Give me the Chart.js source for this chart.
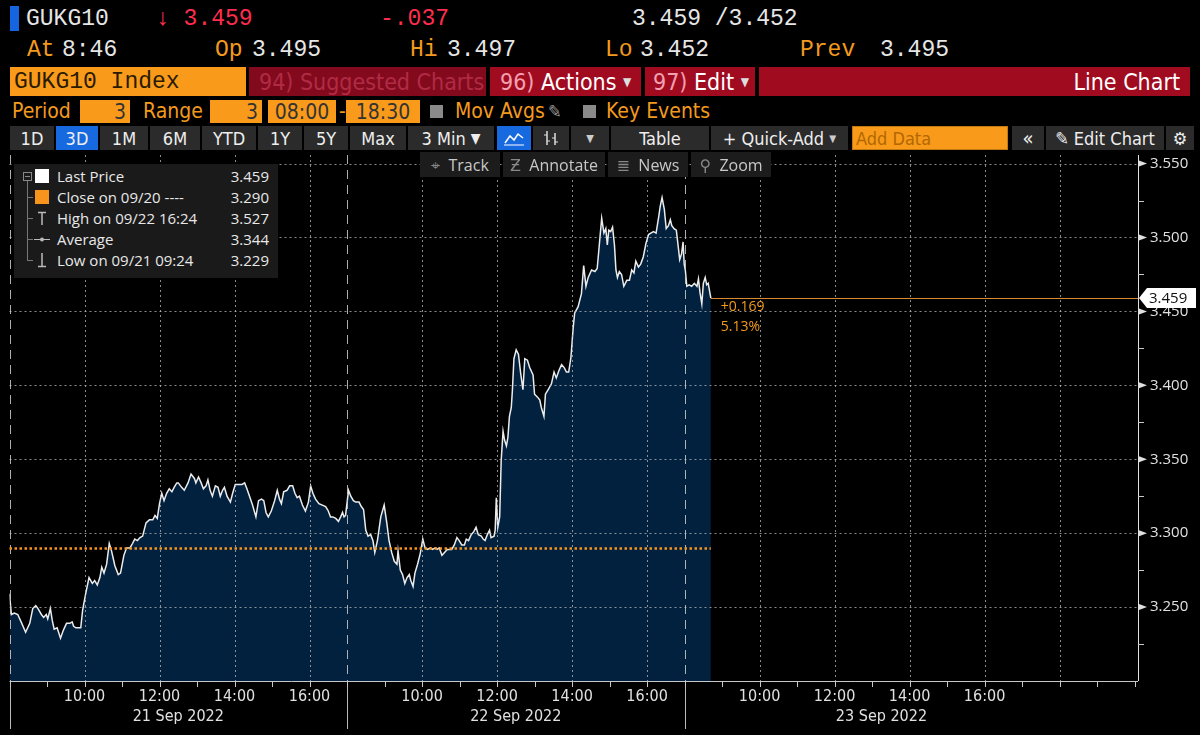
<!DOCTYPE html>
<html>
<head>
<meta charset="utf-8">
<script src="https://cdn.jsdelivr.net/npm/chart.js@4.4.0/dist/chart.umd.min.js"></script>
<style>
  html, body { margin: 0; padding: 0; background: #000; }
  #wrap { position: relative; width: 1200px; height: 735px; background: #000; overflow: hidden; }
  .t { position: absolute; white-space: nowrap; }
  .mono { font-family: 'Liberation Mono', 'DejaVu Sans Mono', monospace; font-size: 23px; line-height: 24px; }
  .nar { font-family: 'Liberation Sans Narrow', 'DejaVu Sans Condensed', 'Liberation Sans', sans-serif; }
  .or { color: #f39a1e; }
  .wh { color: #e6e6e6; }
  .red { color: #ff2d4d; }
  .box { position: absolute; display: flex; align-items: center; box-sizing: border-box; white-space: nowrap; }
  .btn { position: absolute; top: 126px; height: 24px; background: #2b2b2b; color: #eee; font-size: 18px;
         display: flex; align-items: center; justify-content: center; box-sizing: border-box; white-space: nowrap; }
  .ov { position: absolute; top: 152px; height: 25px; background: #1c1c1c; color: #c8c8c8; font-size: 16px;
        font-family: 'Open Sans', 'DejaVu Sans', sans-serif; display: flex; align-items: center; justify-content: center;
        white-space: nowrap; z-index: 3; }
  #legend { position: absolute; left: 14px; top: 164px; width: 264px; height: 114px; background: #1a1a1a; z-index: 3;
            font-family: 'Open Sans', 'DejaVu Sans', sans-serif; font-size: 15px; color: #e8e8e8; }
  #legend .row { position: absolute; left: 43px; width: 212px; height: 21px; line-height: 21px; }
  #legend .row span { position: absolute; right: 0; }
  canvas { position: absolute; left: 0; top: 150px; }
</style>
</head>
<body>
<div id="wrap">
  <!-- quote header -->
  <div class="t" style="left:10px;top:6px;width:9px;height:25px;background:#1565e0"></div>
  <div class="t mono wh" style="left:26px;top:7px">GUKG10</div>
  <div class="t mono red" style="left:156px;top:7px">↓ 3.459</div>
  <div class="t mono red" style="left:380px;top:7px">-.037</div>
  <div class="t mono wh" style="left:632px;top:7px">3.459 /3.452</div>

  <div class="t mono or" style="left:27px;top:38px">At</div>
  <div class="t mono wh" style="left:62px;top:38px">8:46</div>
  <div class="t mono or" style="left:215px;top:38px">Op</div>
  <div class="t mono wh" style="left:252px;top:38px">3.495</div>
  <div class="t mono or" style="left:410px;top:38px">Hi</div>
  <div class="t mono wh" style="left:447px;top:38px">3.497</div>
  <div class="t mono or" style="left:605px;top:38px">Lo</div>
  <div class="t mono wh" style="left:640px;top:38px">3.452</div>
  <div class="t mono or" style="left:800px;top:38px">Prev</div>
  <div class="t mono wh" style="left:880px;top:38px">3.495</div>

  <!-- function bar -->
  <div class="box mono" style="left:10px;top:67px;width:236px;height:29px;background:#f99a1b;color:#2a1a00;padding-left:4px">GUKG10 Index</div>
  <div class="box nar" style="left:249px;top:67px;width:237px;height:29px;background:#820a1c;color:#b12a45;font-size:23px;padding-left:10px">94) Suggested Charts</div>
  <div class="box nar" style="left:490px;top:67px;width:151px;height:29px;background:#a00b20;color:#fff;font-size:23px;padding-left:10px"><span style="color:#f4a0b0">96)</span>&nbsp;Actions&nbsp;<span style="font-size:12px;color:#ddd">▼</span></div>
  <div class="box nar" style="left:645px;top:67px;width:110px;height:29px;background:#a00b20;color:#fff;font-size:23px;padding-left:8px"><span style="color:#f4a0b0">97)</span>&nbsp;Edit&nbsp;<span style="font-size:12px;color:#ddd">▼</span></div>
  <div class="box nar" style="left:759px;top:67px;width:431px;height:29px;background:#a00b20;color:#fff;font-size:23px;justify-content:flex-end;padding-right:10px">Line Chart</div>

  <!-- period row -->
  <div class="t nar or" style="left:12px;top:100px;font-size:21px;line-height:23px">Period</div>
  <div class="box nar" style="left:80px;top:100px;width:50px;height:23px;background:#f99a1b;color:#333;font-size:21px;justify-content:flex-end;padding-right:4px">3</div>
  <div class="t nar or" style="left:143px;top:100px;font-size:21px;line-height:23px">Range</div>
  <div class="box nar" style="left:210px;top:100px;width:52px;height:23px;background:#f99a1b;color:#333;font-size:21px;justify-content:flex-end;padding-right:4px">3</div>
  <div class="box nar" style="left:268px;top:100px;width:68px;height:23px;background:#f99a1b;color:#333;font-size:21px;justify-content:center">08:00</div>
  <div class="t nar or" style="left:339px;top:100px;font-size:21px;line-height:23px">-</div>
  <div class="box nar" style="left:346px;top:100px;width:74px;height:23px;background:#f99a1b;color:#333;font-size:21px;justify-content:center">18:30</div>
  <div class="t" style="left:430px;top:105px;width:13px;height:13px;background:#8a8a8a"></div>
  <div class="t nar or" style="left:455px;top:100px;font-size:21px;line-height:23px">Mov Avgs</div>
  <div class="t nar" style="left:548px;top:100px;font-size:18px;line-height:23px;color:#999">✎</div>
  <div class="t" style="left:583px;top:105px;width:13px;height:13px;background:#8a8a8a"></div>
  <div class="t nar or" style="left:606px;top:100px;font-size:21px;line-height:23px">Key Events</div>

  <!-- toolbar -->
  <div class="btn nar" style="left:10px;width:44px">1D</div>
  <div class="btn nar" style="left:56px;width:42px;background:#1769e0">3D</div>
  <div class="btn nar" style="left:100px;width:48px">1M</div>
  <div class="btn nar" style="left:150px;width:50px">6M</div>
  <div class="btn nar" style="left:202px;width:54px">YTD</div>
  <div class="btn nar" style="left:258px;width:44px">1Y</div>
  <div class="btn nar" style="left:304px;width:44px">5Y</div>
  <div class="btn nar" style="left:350px;width:56px">Max</div>
  <div class="btn nar" style="left:408px;width:86px">3 Min&nbsp;<span style="font-size:14px">▼</span></div>
  <div class="btn" style="left:497px;width:34px;background:#1769e0">
    <svg width="22" height="16"><polyline points="2,13 7,6 11,10 15,4 20,8" fill="none" stroke="#fff" stroke-width="1.5"/><line x1="1" y1="15" x2="21" y2="15" stroke="#fff"/></svg>
  </div>
  <div class="btn" style="left:533px;width:36px">
    <svg width="20" height="18"><line x1="6" y1="2" x2="6" y2="16" stroke="#ddd" stroke-width="1.5"/><line x1="3" y1="6" x2="6" y2="6" stroke="#ddd"/><line x1="6" y1="12" x2="9" y2="12" stroke="#ddd"/><line x1="14" y1="4" x2="14" y2="16" stroke="#ddd" stroke-width="1.5"/><line x1="11" y1="9" x2="14" y2="9" stroke="#ddd"/><line x1="14" y1="13" x2="17" y2="13" stroke="#ddd"/></svg>
  </div>
  <div class="btn nar" style="left:571px;width:38px;font-size:11px;color:#ccc">▼</div>
  <div class="btn nar" style="left:611px;width:98px">Table</div>
  <div class="btn nar" style="left:711px;width:137px">+ Quick-Add&nbsp;<span style="font-size:10px;color:#ccc">▼</span></div>
  <div class="btn nar" style="left:852px;width:156px;background:#f99a1b;color:#b26800;justify-content:flex-start;padding-left:3px;border:1px solid #c07a10">Add Data</div>
  <div class="btn nar" style="left:1012px;width:32px;font-size:20px">«</div>
  <div class="btn nar" style="left:1046px;width:118px">✎ Edit Chart</div>
  <div class="btn nar" style="left:1166px;width:28px;font-size:18px">⚙</div>

  <!-- chart overlay buttons -->
  <div class="ov" style="left:420px;width:80px"><span style="color:#888">⌖</span>&nbsp;&nbsp;Track</div>
  <div class="ov" style="left:503px;width:102px"><span style="color:#888">Ƶ</span>&nbsp;&nbsp;Annotate</div>
  <div class="ov" style="left:608px;width:80px"><span style="color:#888">≣</span>&nbsp;&nbsp;News</div>
  <div class="ov" style="left:691px;width:80px"><span style="color:#888">⚲</span>&nbsp;&nbsp;Zoom</div>

  <!-- legend -->
  <div id="legend">
    <svg width="40" height="114" style="position:absolute;left:0;top:0">
      <rect x="9.5" y="8.5" width="8" height="8" fill="none" stroke="#888"/>
      <line x1="11" y1="12.5" x2="16" y2="12.5" stroke="#888"/>
      <line x1="13.5" y1="17" x2="13.5" y2="97" stroke="#777"/>
      <line x1="13.5" y1="33.5" x2="19" y2="33.5" stroke="#777"/>
      <line x1="13.5" y1="54.5" x2="19" y2="54.5" stroke="#777"/>
      <line x1="13.5" y1="75.5" x2="19" y2="75.5" stroke="#777"/>
      <line x1="13.5" y1="96.5" x2="19" y2="96.5" stroke="#777"/>
      <rect x="21" y="5" width="14" height="14" fill="#fff"/>
      <rect x="21" y="26" width="14" height="14" fill="#f7941d"/>
      <line x1="24" y1="48.5" x2="32" y2="48.5" stroke="#bbb" stroke-width="1.5"/>
      <line x1="28" y1="48" x2="28" y2="61" stroke="#bbb" stroke-width="1.5"/>
      <line x1="20" y1="75.5" x2="36" y2="75.5" stroke="#bbb"/>
      <circle cx="28" cy="75.5" r="2" fill="#bbb"/>
      <line x1="28" y1="89" x2="28" y2="102" stroke="#bbb" stroke-width="1.5"/>
      <line x1="24" y1="102.5" x2="32" y2="102.5" stroke="#bbb" stroke-width="1.5"/>
    </svg>
    <div class="row" style="top:2px">Last Price<span id="lgLast"></span></div>
    <div class="row" style="top:23px">Close on 09/20 ---- <span id="lgClose"></span></div>
    <div class="row" style="top:44px">High on 09/22 16:24<span id="lgHigh"></span></div>
    <div class="row" style="top:65px">Average<span id="lgAvg"></span></div>
    <div class="row" style="top:86px">Low on 09/21 09:24<span id="lgLow"></span></div>
  </div>

  <canvas id="chart" width="1200" height="585"></canvas>
</div>

<script>
// session hours on a compressed axis: 21 Sep 08:00 = 0, each day 08:00-17:00 = 9h
const hours = [
  0.00, 0.05, 0.13, 0.22, 0.31, 0.43, 0.54, 0.62, 0.70, 0.76, 0.85, 0.91, 0.98, 1.02, 1.09, 1.14, 1.19, 1.27, 1.36, 1.43,
  1.52, 1.61, 1.67, 1.71, 1.77, 1.85, 1.90, 1.95, 2.03, 2.12, 2.21, 2.27, 2.34, 2.41, 2.46, 2.52, 2.59, 2.66, 2.72, 2.81,
  2.90, 2.96, 3.05, 3.12, 3.21, 3.28, 3.34, 3.41, 3.48, 3.55, 3.64, 3.73, 3.82, 3.88, 3.94, 4.00, 4.06, 4.12, 4.19, 4.26,
  4.33, 4.39, 4.46, 4.50, 4.59, 4.66, 4.76, 4.84, 4.93, 4.97, 5.04, 5.11, 5.17, 5.24, 5.29, 5.35, 5.41, 5.49, 5.56, 5.62,
  5.68, 5.73, 5.80, 5.89, 5.95, 6.02, 6.11, 6.20, 6.27, 6.33, 6.40, 6.48, 6.57, 6.64, 6.72, 6.78, 6.84, 6.90, 6.98, 7.07,
  7.14, 7.20, 7.25, 7.31, 7.40, 7.47, 7.55, 7.61, 7.67, 7.73, 7.81, 7.89, 7.97, 8.03, 8.09, 8.16, 8.25, 8.34, 8.43, 8.50,
  8.56, 8.62, 8.70, 8.77, 8.83, 8.88, 8.92, 8.96,
  9.04, 9.10, 9.17, 9.23, 9.32, 9.38, 9.44, 9.50, 9.56, 9.63, 9.69, 9.74, 9.81, 9.90, 9.99, 10.06, 10.12, 10.19, 10.26, 10.33,
  10.36, 10.42, 10.48, 10.54, 10.60, 10.66, 10.70, 10.76, 10.81, 10.88, 10.95, 11.02, 11.08, 11.15, 11.22, 11.28, 11.35, 11.40, 11.46, 11.53,
  11.60, 11.67, 11.73, 11.79, 11.86, 11.93, 11.99, 12.06, 12.13, 12.18, 12.24, 12.31, 12.38, 12.44, 12.50, 12.58, 12.63, 12.68, 12.74, 12.80,
  12.84, 12.92, 12.95, 12.98, 13.02, 13.07, 13.11, 13.16, 13.20, 13.25, 13.29, 13.33, 13.38, 13.41, 13.45, 13.51, 13.57, 13.63, 13.69, 13.74,
  13.81, 13.87, 13.96, 14.00, 14.08, 14.14, 14.18, 14.25, 14.29, 14.36, 14.45, 14.52, 14.58, 14.65, 14.72, 14.79, 14.85, 14.91, 14.97, 15.03,
  15.07, 15.16, 15.25, 15.31, 15.37, 15.43, 15.52, 15.61, 15.67, 15.73, 15.79, 15.85, 15.90, 15.94, 15.98, 16.03, 16.08, 16.13, 16.17, 16.21,
  16.26, 16.32, 16.38, 16.46, 16.53, 16.59, 16.65, 16.70, 16.77, 16.83, 16.90, 16.97, 17.04, 17.10, 17.17, 17.24, 17.31, 17.35, 17.40, 17.46,
  17.51, 17.57, 17.62, 17.66, 17.72, 17.78, 17.83, 17.87, 17.92, 17.96, 17.99,
  18.02, 18.06, 18.12, 18.19, 18.26, 18.33, 18.37, 18.41, 18.46, 18.50, 18.55, 18.59, 18.63, 18.70
];
const yields = [
  3.259, 3.245, 3.246, 3.245, 3.240, 3.233, 3.239, 3.249, 3.251, 3.249, 3.245, 3.243, 3.245, 3.242, 3.249, 3.241, 3.235, 3.236, 3.229, 3.234,
  3.239, 3.239, 3.240, 3.237, 3.236, 3.236, 3.236, 3.248, 3.259, 3.270, 3.266, 3.268, 3.265, 3.270, 3.277, 3.273, 3.279, 3.293, 3.288, 3.278,
  3.272, 3.273, 3.285, 3.290, 3.290, 3.293, 3.296, 3.295, 3.297, 3.298, 3.307, 3.309, 3.309, 3.312, 3.310, 3.320, 3.327, 3.322, 3.327, 3.330,
  3.328, 3.331, 3.334, 3.334, 3.331, 3.329, 3.334, 3.340, 3.337, 3.334, 3.338, 3.334, 3.330, 3.332, 3.336, 3.329, 3.325, 3.332, 3.331, 3.325,
  3.329, 3.331, 3.325, 3.321, 3.327, 3.333, 3.333, 3.333, 3.334, 3.330, 3.325, 3.319, 3.311, 3.322, 3.323, 3.322, 3.314, 3.311, 3.315, 3.322,
  3.329, 3.323, 3.320, 3.328, 3.329, 3.332, 3.332, 3.327, 3.324, 3.325, 3.319, 3.315, 3.321, 3.332, 3.327, 3.323, 3.320, 3.319, 3.318, 3.315,
  3.311, 3.311, 3.310, 3.308, 3.311, 3.314, 3.311, 3.312,
  3.329, 3.325, 3.322, 3.321, 3.321, 3.318, 3.316, 3.302, 3.298, 3.299, 3.295, 3.287, 3.295, 3.311, 3.319, 3.307, 3.295, 3.287, 3.281, 3.279,
  3.288, 3.275, 3.272, 3.266, 3.270, 3.272, 3.268, 3.264, 3.273, 3.279, 3.286, 3.296, 3.290, 3.289, 3.290, 3.289, 3.290, 3.289, 3.290, 3.285,
  3.287, 3.289, 3.289, 3.289, 3.292, 3.297, 3.295, 3.292, 3.292, 3.296, 3.295, 3.299, 3.301, 3.304, 3.299, 3.298, 3.296, 3.295, 3.299, 3.302,
  3.297, 3.298, 3.302, 3.324, 3.304, 3.311, 3.349, 3.369, 3.363, 3.359, 3.365, 3.379, 3.385, 3.397, 3.418, 3.424, 3.421, 3.408, 3.397, 3.418,
  3.417, 3.412, 3.407, 3.394, 3.392, 3.390, 3.385, 3.379, 3.394, 3.397, 3.401, 3.409, 3.405, 3.410, 3.414, 3.412, 3.409, 3.409, 3.419, 3.439,
  3.449, 3.453, 3.462, 3.481, 3.467, 3.473, 3.478, 3.477, 3.479, 3.496, 3.513, 3.503, 3.506, 3.495, 3.505, 3.504, 3.507, 3.495, 3.478, 3.473,
  3.477, 3.475, 3.467, 3.471, 3.471, 3.478, 3.476, 3.484, 3.480, 3.482, 3.487, 3.496, 3.502, 3.503, 3.504, 3.503, 3.514, 3.521, 3.527, 3.519,
  3.506, 3.508, 3.512, 3.508, 3.506, 3.505, 3.494, 3.485, 3.489, 3.497, 3.482,
  3.478, 3.467, 3.468, 3.467, 3.469, 3.467, 3.472, 3.463, 3.455, 3.469, 3.473, 3.468, 3.469, 3.459
];

const yTickValues = [3.25, 3.30, 3.35, 3.40, 3.45, 3.50, 3.55];
const timeTickValues = [2, 4, 6, 8, 11, 13, 15, 17, 20, 22, 24, 26];
const timeTickLabels = ['10:00', '12:00', '14:00', '16:00', '10:00', '12:00', '14:00', '16:00', '10:00', '12:00', '14:00', '16:00'];
const gridHours = [2, 4, 6, 8, 11, 13, 15, 17, 20, 22, 24, 26, 28];
const dayStarts = [0, 9, 18];
const dayLabels = ['21 Sep 2022', '22 Sep 2022', '23 Sep 2022'];
const dayLabelCenters = [4.5, 13.5, 23.25];

const prevClose = 3.290;
const lastPrice = 3.459;
const highValue = 3.527;
const averageValue = 3.344;
const lowValue = 3.229;
const changeLabels = ['+0.169', '5.13%'];

document.getElementById('lgLast').textContent = lastPrice.toFixed(3);
document.getElementById('lgClose').textContent = prevClose.toFixed(3);
document.getElementById('lgHigh').textContent = highValue.toFixed(3);
document.getElementById('lgAvg').textContent = averageValue.toFixed(3);
document.getElementById('lgLow').textContent = lowValue.toFixed(3);

const NARROW = "'Liberation Sans Narrow', 'DejaVu Sans Condensed', 'Liberation Sans', sans-serif";

function seg(ctx, x1, y1, x2, y2) {
  ctx.beginPath();
  ctx.moveTo(x1, y1);
  ctx.lineTo(x2, y2);
  ctx.stroke();
}

// grid, reference lines, axis furniture
const terminalDecor = {
  id: 'terminalDecor',
  afterDatasetsDraw(chart) {
    const { ctx, chartArea: a, scales: { x, y } } = chart;
    ctx.save();
    ctx.lineWidth = 1;

    // dotted grid
    ctx.strokeStyle = 'rgba(185,185,185,0.75)';
    ctx.setLineDash([2, 3]);
    yTickValues.forEach(v => {
      const py = Math.round(y.getPixelForValue(v)) + 0.5;
      seg(ctx, a.left, py, a.right, py);
    });
    gridHours.forEach(h => {
      const px = Math.round(x.getPixelForValue(h)) + 0.5;
      seg(ctx, px, a.top, px, a.bottom);
    });

    // day separators
    ctx.strokeStyle = 'rgba(205,205,205,0.85)';
    ctx.setLineDash([9, 6]);
    dayStarts.forEach(h => {
      const px = Math.round(x.getPixelForValue(h)) + 0.5;
      seg(ctx, px, a.top, px, a.bottom);
    });
    ctx.setLineDash([]);
    ctx.strokeStyle = '#bbb';
    dayStarts.forEach(h => {
      const px = Math.round(x.getPixelForValue(h)) + 0.5;
      seg(ctx, px, a.bottom, px, a.bottom + 48);
    });

    // previous close, dotted orange up to the last bar
    const lastX = x.getPixelForValue(hours[hours.length - 1]);
    const closeY = Math.round(y.getPixelForValue(prevClose)) + 0.5;
    ctx.strokeStyle = '#f7941d';
    ctx.lineWidth = 2.5;
    ctx.setLineDash([2.5, 2.5]);
    seg(ctx, a.left, closeY, lastX, closeY);

    // last price line
    const lastY = Math.round(y.getPixelForValue(lastPrice)) + 0.5;
    ctx.setLineDash([]);
    ctx.lineWidth = 1.2;
    ctx.strokeStyle = '#d9892e';
    seg(ctx, lastX, lastY, a.right, lastY);
    ctx.fillStyle = '#f39a1e';
    ctx.font = "14px 'Open Sans', 'DejaVu Sans', sans-serif";
    ctx.textBaseline = 'middle';
    ctx.textAlign = 'left';
    ctx.fillText(changeLabels[0], lastX + 10, lastY + 9);
    ctx.fillText(changeLabels[1], lastX + 10, lastY + 29);

    // axes
    ctx.lineWidth = 1;
    ctx.strokeStyle = '#e0e0e0';
    seg(ctx, a.right + 0.5, a.top, a.right + 0.5, a.bottom);
    ctx.strokeStyle = '#c8c8c8';
    seg(ctx, a.left, a.bottom + 0.5, a.right, a.bottom + 0.5);

    // y tick markers and minor ticks
    ctx.fillStyle = '#e0e0e0';
    yTickValues.forEach(v => {
      const py = y.getPixelForValue(v);
      ctx.beginPath();
      ctx.moveTo(a.right + 1, py - 3);
      ctx.lineTo(a.right + 9, py);
      ctx.lineTo(a.right + 1, py + 3);
      ctx.closePath();
      ctx.fill();
      const pm = Math.round(y.getPixelForValue(v - 0.025)) + 0.5;
      seg(ctx, a.right, pm, a.right + 6, pm);
    });

    // hourly ticks on the time axis
    for (let h = 0; h <= Math.floor(x.max); h++) {
      const px = Math.round(x.getPixelForValue(h)) + 0.5;
      seg(ctx, px, a.bottom, px, a.bottom + 6);
    }

    // date labels
    ctx.fillStyle = '#e0e0e0';
    ctx.font = '16px ' + NARROW;
    ctx.textAlign = 'center';
    dayLabels.forEach((lab, i) => {
      ctx.fillText(lab, x.getPixelForValue(dayLabelCenters[i]), a.bottom + 36);
    });
    ctx.restore();
  },
  afterDraw(chart) {
    const { ctx, chartArea: a, scales: { y } } = chart;
    const py = y.getPixelForValue(lastPrice);
    ctx.save();
    ctx.fillStyle = '#fff';
    ctx.beginPath();
    ctx.moveTo(a.right + 1, py);
    ctx.lineTo(a.right + 9, py - 10);
    ctx.lineTo(a.right + 58, py - 10);
    ctx.lineTo(a.right + 58, py + 10);
    ctx.lineTo(a.right + 9, py + 10);
    ctx.closePath();
    ctx.fill();
    ctx.fillStyle = '#111';
    ctx.font = "15px 'Open Sans', 'DejaVu Sans', sans-serif";
    ctx.textBaseline = 'middle';
    ctx.textAlign = 'left';
    ctx.fillText(lastPrice.toFixed(3), a.right + 11, py + 1);
    ctx.restore();
  }
};

const points = hours.map((h, i) => ({ x: h, y: yields[i] }));

new Chart(document.getElementById('chart'), {
  type: 'line',
  data: {
    datasets: [{
      label: 'Last Price',
      data: points,
      borderColor: '#ececec',
      borderWidth: 1.5,
      backgroundColor: '#02213f',
      fill: 'start',
      pointRadius: 0,
      tension: 0
    }]
  },
  options: {
    responsive: false,
    animation: false,
    events: [],
    layout: { padding: { left: 9.5, top: 5, right: 0, bottom: 0 } },
    scales: {
      x: {
        type: 'linear',
        position: 'bottom',
        min: 0,
        max: 30.09,
        afterFit: s => { s.height = 54; s.paddingLeft = 0; s.paddingRight = 0; },
        afterBuildTicks: s => { s.ticks = timeTickValues.map(v => ({ value: v })); },
        grid: { display: false, drawTicks: false },
        border: { display: false },
        ticks: {
          autoSkip: false,
          maxRotation: 0,
          padding: 6,
          color: '#e0e0e0',
          font: { family: NARROW, size: 16 },
          callback: (v, i) => timeTickLabels[i]
        }
      },
      y: {
        position: 'right',
        min: 3.2,
        max: 3.5558,
        afterFit: s => { s.width = 62; s.paddingTop = 0; s.paddingBottom = 0; },
        afterBuildTicks: s => { s.ticks = yTickValues.map(v => ({ value: v })); },
        grid: { display: false, drawTicks: false },
        border: { display: false },
        ticks: {
          padding: 12,
          color: '#e0e0e0',
          font: { family: "'Open Sans', 'DejaVu Sans', sans-serif", size: 15 },
          callback: v => v.toFixed(3)
        }
      }
    },
    plugins: {
      legend: { display: false },
      tooltip: { enabled: false }
    }
  },
  plugins: [terminalDecor]
});
</script>
</body>
</html>
